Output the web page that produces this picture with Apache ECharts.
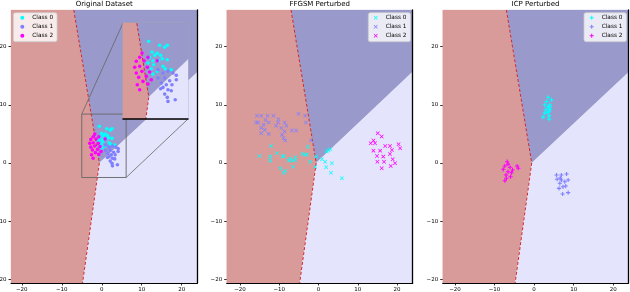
<!DOCTYPE html>
<html><head><meta charset="utf-8">
<script src="https://cdn.jsdelivr.net/npm/echarts@6/dist/echarts.min.js"></script>
<style>html,body{margin:0;padding:0;background:#fff}#c{width:630px;height:292px}</style>
</head><body><div id="c"></div>
<script>
// ---------------- data ----------------
const titles = ['Original Dataset', 'FFGSM Perturbed', 'ICP Perturbed'];
const classNames = ['Class 0', 'Class 1', 'Class 2'];
const tickValues = [-20, -10, 0, 10, 20];
const xRanges = [[-22.7, 23.9], [-23.4, 24.0], [-23.1, 23.8]];
const yRange = [-20.64, 26.3];
const insetXRange = [-5.0, 6.1];
const insetYRange = [-2.5, 8.4];
// decision boundaries (data coords)
const redBoundary = [[-7.0, 26.3], [-0.6, 0.0], [-4.8, -20.64]];
const blueBoundary = [[-0.6, 0.0], [30, 19.5]];

const origClass0 = [[-0.61,6.32],[1.26,5.87],[2.56,5.87],[2.11,5.64],[-0.05,5.1],[0.85,4.96],[1.43,4.73],[0.41,4.73],[-0.44,4.5],[1.71,4.34],[2.56,4.23],[1.09,4.12],[0.12,4.12],[-0.73,3.85],[0.24,3.66],[-0.17,3.21],[2.22,3.21],[3.24,3.09],[0.85,2.91],[0.12,2.6],[1.83,3.48]];
const origClass1 = [[0.97,3.09],[1.83,2.72],[2.68,2.91],[3.53,2.72],[4.1,2.46],[0.97,2.15],[2.12,2.15],[2.97,1.84],[1.54,1.58],[2.39,1.39],[3.36,1.39],[4.1,1.96],[1.43,0.93],[2.68,0.82],[3.24,0.7],[2.12,0.33],[2.56,-0.04],[2.68,-0.5],[3.92,-0.32],[1.83,1.09]];
const origClass2 = [[-1.76,4.99],[-2.15,4.5],[-0.73,4.5],[-2.73,4.05],[-1.42,4.12],[0.85,4.12],[-3.0,3.37],[-2.15,3.48],[-0.85,3.37],[-1.76,2.91],[-2.73,2.72],[-0.44,2.83],[-2.32,2.23],[-1.02,2.34],[-1.59,1.77],[-0.73,1.47],[-2.15,0.82],[-0.17,1.96],[-2.56,1.39]];

const ffgsmClass0 = [[-12.1,2.93],[-2.7,2.8],[-10.6,1.67],[-8.9,1.2],[-15.1,1.2],[-12.3,1.09],[-12.3,0.4],[-7.6,0.4],[-5.9,0.52],[-5.9,0.98],[-6.6,0.4],[-4.1,1.55],[-3.4,1.38],[-2.1,0.22],[-0.84,-0.64],[-9.7,-0.92],[-8.5,-1.33],[-8.9,-1.67],[-6.5,-0.64],[2.1,1.95],[3.0,2.36],[0.87,0.64],[1.7,0.22],[1.96,-0.74],[3.4,-0.05],[3.2,-1.67],[5.95,-2.64],[-0.6,1.09],[-9.1,1.09],[-7.2,0.7],[2.5,2.2],[-3.0,1.5]];
const ffgsmClass1 = [[-15.7,8.1],[-14.6,8.1],[-13.0,8.1],[-11.5,8.1],[-15.9,6.95],[-15.4,6.95],[-14.0,6.55],[-12.7,6.95],[-10.2,7.5],[-10.3,6.95],[-10.8,6.38],[-8.65,6.95],[-8.2,6.38],[-5.1,8.45],[-3.4,8.1],[-3.2,6.95],[-13.7,5.69],[-14.6,5.12],[-12.7,5.0],[-8.65,5.4],[-6.8,5.57],[-5.7,5.57],[-9.3,4.83],[-8.9,4.26],[-8.5,3.85],[-1.9,3.85],[-14.6,6.0],[-13.5,7.4],[-9.5,6.0]];
const ffgsmClass2 = [[15.1,5.12],[16.1,4.54],[14.0,3.85],[13.3,3.39],[14.4,3.39],[17.0,2.93],[18.2,2.93],[20.4,3.22],[20.8,2.53],[14.0,2.12],[15.7,2.12],[18.7,2.24],[18.2,1.55],[14.9,1.2],[16.5,1.09],[18.9,0.64],[16.7,0.22],[15.0,0.22],[19.5,-0.05],[18.4,-0.52],[16.1,-0.92]];

const icpClass0 = [[3.54,11.3],[4.4,10.86],[3.13,10.57],[2.7,10.0],[3.96,10.0],[3.54,9.6],[3.96,9.26],[2.95,9.14],[3.54,8.67],[2.27,7.88],[3.79,8.1],[3.79,7.53],[2.7,8.57],[3.96,9.7],[3.79,8.9]];
const icpClass1 = [[5.66,-2.07],[6.9,-2.07],[8.2,-1.9],[5.8,-2.8],[6.9,-2.93],[7.75,-3.22],[8.6,-2.93],[6.5,-3.5],[7.3,-4.1],[6.3,-4.37],[8.6,-5.1],[7.2,-5.34],[8.0,-3.97],[6.6,-2.6]];
const icpClass2 = [[-6.8,0.22],[-7.4,-0.52],[-7.8,-1.09],[-6.1,-0.74],[-6.6,-1.5],[-5.45,-1.2],[-4.3,-0.52],[-7.1,-2.07],[-5.96,-2.36],[-7.4,-3.05],[-5.7,-1.67],[-7.0,-2.64],[-6.6,-0.2],[-4.0,-0.9]];

const panelData = [[origClass0, origClass1, origClass2], [ffgsmClass0, ffgsmClass1, ffgsmClass2], [icpClass0, icpClass1, icpClass2]];

// ---------------- styles ----------------
const FONT = 'DejaVu Sans';
const classColors = ['#00ffff', '#8080ff', '#ff00ff'];
const regionColors = ['#d89b99', '#9999cb', '#e4e4fc'];
const X_PATH = 'path://M0,1.3L1.3,0L5,3.7L8.7,0L10,1.3L6.3,5L10,8.7L8.7,10L5,6.3L1.3,10L0,8.7L3.7,5Z';
const PLUS_PATH = 'path://M3.7,0H6.3V3.7H10V6.3H6.3V10H3.7V6.3H0V3.7H3.7Z';
const panelSymbols = ['circle', X_PATH, PLUS_PATH];
const panelSymbolSizes = [3.6, 4, 4.2];

const gridBase = {outerBoundsMode: 'none', containLabel: false};
const grids = [
  Object.assign({left: 11, top: 10, width: 186.3, height: 273}, gridBase),
  Object.assign({left: 226.7, top: 10, width: 186, height: 273}, gridBase),
  Object.assign({left: 442.7, top: 10, width: 185.6, height: 273}, gridBase),
  Object.assign({left: 123, top: 23, width: 65, height: 96, show: true, borderColor: '#a8a8a8', borderWidth: 0.8, backgroundColor: 'transparent', z: 8}, gridBase)
];
const legendBoxes = [{left: 13.3, padding: [2, 4, 3, 7]}, {left: 368.3, padding: [2, 4, 3, 5.4]}, {left: 584, padding: [2, 4, 3, 5.7]}];

// region polygons built from boundaries
const FAR = 30;
const regionPolys = [
  [[-FAR, yRange[1]], ...redBoundary, [-FAR, yRange[0]]],
  [redBoundary[0], [FAR, yRange[1]], blueBoundary[1], blueBoundary[0]],
  [blueBoundary[0], blueBoundary[1], [FAR, yRange[0]], redBoundary[2]]
];

function clipPoly(poly, xmin, xmax, ymin, ymax) {
  const edges = [
    [p => p[0] >= xmin, (a, b) => { const t = (xmin - a[0]) / (b[0] - a[0]); return [xmin, a[1] + t * (b[1] - a[1])]; }],
    [p => p[0] <= xmax, (a, b) => { const t = (xmax - a[0]) / (b[0] - a[0]); return [xmax, a[1] + t * (b[1] - a[1])]; }],
    [p => p[1] >= ymin, (a, b) => { const t = (ymin - a[1]) / (b[1] - a[1]); return [a[0] + t * (b[0] - a[0]), ymin]; }],
    [p => p[1] <= ymax, (a, b) => { const t = (ymax - a[1]) / (b[1] - a[1]); return [a[0] + t * (b[0] - a[0]), ymax]; }]
  ];
  let out = poly;
  for (const [inside, inter] of edges) {
    const inp = out; out = [];
    for (let i = 0; i < inp.length; i++) {
      const cur = inp[i], prev = inp[(i + inp.length - 1) % inp.length];
      if (inside(cur)) { if (!inside(prev)) out.push(inter(prev, cur)); out.push(cur); }
      else if (inside(prev)) out.push(inter(prev, cur));
    }
  }
  return out;
}

const fmt = v => (v < 0 ? '\u2212' : '') + Math.abs(v);

const xAxes = [], yAxes = [], series = [];
const axisRanges = [xRanges[0], xRanges[1], xRanges[2], insetXRange];
const yAxisRanges = [yRange, yRange, yRange, insetYRange];

for (let g = 0; g < 4; g++) {
  const inset = g === 3;
  xAxes.push({
    type: 'value', gridIndex: g, min: axisRanges[g][0], max: axisRanges[g][1], position: 'bottom', z: inset ? 12 : 10,
    axisLine: {show: true, onZero: false, lineStyle: {color: '#000', width: inset ? 1.5 : 1.2}},
    axisTick: inset ? {show: false} : {show: true, length: 2.5, customValues: tickValues, lineStyle: {color: '#000', width: 0.8}},
    axisLabel: inset ? {show: false} : {show: true, customValues: tickValues, formatter: fmt, fontSize: 5.5, color: '#000', margin: 3.5, fontFamily: FONT},
    splitLine: {show: false}
  });
  yAxes.push({
    type: 'value', gridIndex: g, min: yAxisRanges[g][0], max: yAxisRanges[g][1], position: 'left', z: inset ? 12 : 10,
    axisLine: {show: false, onZero: false},
    axisTick: inset ? {show: false} : {show: true, length: 2.5, customValues: tickValues, lineStyle: {color: '#000', width: 0.8}},
    axisLabel: inset ? {show: false} : {show: true, customValues: tickValues, formatter: fmt, fontSize: 5.5, color: '#000', margin: 4.5, fontFamily: FONT},
    splitLine: {show: false}
  });
}
for (let g = 0; g < 3; g++) {
  yAxes.push({
    type: 'value', gridIndex: g, min: yRange[0], max: yRange[1], position: 'right', z: 10,
    axisLine: {show: true, onZero: false, lineStyle: {color: '#000', width: 1.3}},
    axisTick: {show: false}, axisLabel: {show: false}, splitLine: {show: false}
  });
}

function addPanelSeries(g, dataIdx, zBase) {
  const xr = axisRanges[g], yr = yAxisRanges[g];
  series.push({
    type: 'custom', xAxisIndex: g, yAxisIndex: g, z: zBase, silent: true,
    data: regionPolys.map(() => [0, 0]),
    renderItem: (params, api) => {
      const poly = clipPoly(regionPolys[params.dataIndex], xr[0], xr[1], yr[0], yr[1]);
      return {type: 'polygon', shape: {points: poly.map(p => api.coord(p))},
        style: {fill: regionColors[params.dataIndex], stroke: regionColors[params.dataIndex], lineWidth: 0.3}};
    }
  });
  series.push({
    type: 'line', xAxisIndex: g, yAxisIndex: g, z: zBase + 1, silent: true, clip: true,
    data: redBoundary, symbol: 'none', lineStyle: {color: '#d62728', width: 1, type: [3, 2]}
  });
  const cls = panelData[dataIdx];
  cls.forEach((pts, k) => {
    series.push({
      type: 'scatter', name: classNames[k], xAxisIndex: g, yAxisIndex: g, z: zBase + 2, silent: true, clip: true,
      data: pts, symbol: panelSymbols[dataIdx], symbolSize: panelSymbolSizes[dataIdx],
      itemStyle: {color: classColors[k], opacity: 1}
    });
  });
}
addPanelSeries(0, 0, 1);
addPanelSeries(1, 1, 1);
addPanelSeries(2, 2, 1);
addPanelSeries(3, 0, 9);

// source rectangle of the zoom inset in panel 1
series.push({
  type: 'custom', xAxisIndex: 0, yAxisIndex: 0, z: 2, silent: true, data: [[0, 0]],
  renderItem: (params, api) => {
    const pts = [[insetXRange[0], insetYRange[0]], [insetXRange[1], insetYRange[0]], [insetXRange[1], insetYRange[1]], [insetXRange[0], insetYRange[1]]];
    return {type: 'polygon', shape: {points: pts.map(p => api.coord(p))}, style: {fill: 'none', stroke: '#666', lineWidth: 0.9}};
  }
});

const legends = [0, 1, 2].map(p => ({
  orient: 'vertical', left: legendBoxes[p].left, top: 12.7, padding: legendBoxes[p].padding,
  itemWidth: 4, itemHeight: 4, itemGap: 3, z: 10,
  backgroundColor: 'rgba(255,255,255,0.8)', borderColor: '#cccccc', borderWidth: 0.8, borderRadius: 2,
  selectedMode: false,
  data: classNames.map(n => ({name: n, icon: panelSymbols[p]})),
  textStyle: {fontSize: 5.8, fontFamily: FONT, color: '#000', lineHeight: 6, padding: [0, 0, 0, 3]}
}));

const titleCenters = [104.2, 319.7, 535.5];
const titleOpts = titles.map((t, i) => ({
  text: t, left: titleCenters[i], top: 0.5, textAlign: 'center', padding: 0,
  textStyle: {fontSize: 7, fontWeight: 'normal', color: '#000', fontFamily: FONT}
}));

const chart = echarts.init(document.getElementById('c'), null, {renderer: 'canvas'});
chart.setOption({
  animation: false,
  backgroundColor: '#fff',
  title: titleOpts,
  legend: legends,
  grid: grids,
  xAxis: xAxes,
  yAxis: yAxes,
  series: series
});

// connector lines between source rectangle and inset
const tl0 = chart.convertToPixel({xAxisIndex: 0, yAxisIndex: 0}, [insetXRange[0], insetYRange[1]]);
const tl1 = chart.convertToPixel({xAxisIndex: 3, yAxisIndex: 3}, [insetXRange[0], insetYRange[1]]);
const br0 = chart.convertToPixel({xAxisIndex: 0, yAxisIndex: 0}, [insetXRange[1], insetYRange[0]]);
const br1 = chart.convertToPixel({xAxisIndex: 3, yAxisIndex: 3}, [insetXRange[1], insetYRange[0]]);
chart.setOption({
  graphic: [
    {type: 'line', z: 4, silent: true, shape: {x1: tl0[0], y1: tl0[1], x2: tl1[0], y2: tl1[1]}, style: {stroke: '#666', lineWidth: 0.8}},
    {type: 'line', z: 4, silent: true, shape: {x1: br0[0], y1: br0[1], x2: br1[0], y2: br1[1]}, style: {stroke: '#666', lineWidth: 0.8}}
  ]
});
</script></body></html>
